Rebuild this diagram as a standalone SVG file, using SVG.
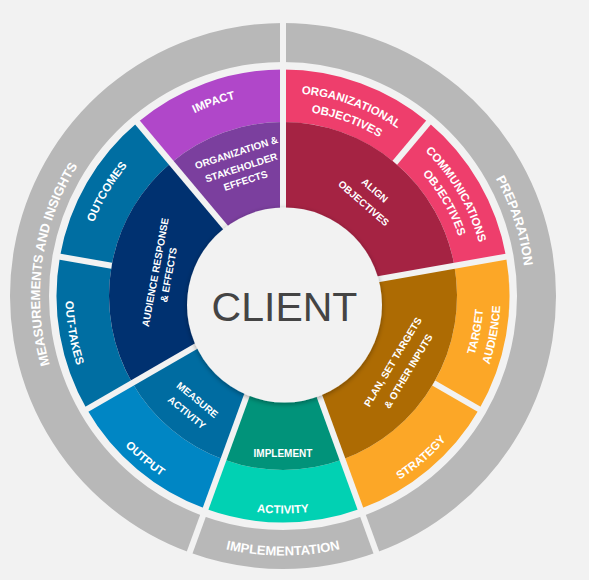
<svg xmlns="http://www.w3.org/2000/svg" width="589" height="580" viewBox="0 0 589 580">
<style>
.arc{fill:none}
.sep{stroke:#f2f2f2;stroke-width:6;fill:none}
.lbl{font-family:"Liberation Sans",Arial,sans-serif;font-weight:bold;fill:#ffffff}
.o{font-size:11.5px}
.i{font-size:10px}
.g{font-size:13px}
</style>
<defs>
<filter id="sh" x="-20%" y="-20%" width="140%" height="140%"><feDropShadow dx="0" dy="1.5" stdDeviation="2.5" flood-color="#000" flood-opacity="0.35"/></filter>
<path id="cw203" d="M-130.49,-155.51 A203,203 0 0 1 130.49,-155.51"/>
<path id="cw185" d="M-119.24,-142.10 A185.5,185.5 0 0 1 119.24,-142.10"/>
<path id="ccw200" d="M-128.88,153.59 A200.5,200.5 0 0 0 128.88,153.59"/>
<path id="ccw217" d="M-139.81,166.61 A217.5,217.5 0 0 0 139.81,166.61"/>
<path id="cw243" d="M-210.45,-121.5 A243,243 0 0 1 210.45,-121.5"/>
<path id="ccw259" d="M-166.80,198.79 A259.5,259.5 0 0 0 166.80,198.79"/>
</defs>
<rect width="589" height="580" fill="#f2f2f2"/>

<g id="preparation">
<path class="arc" d="M283,42.5 A253.5,253.5 0 0 1 369.70,534.21" stroke="#b8b8b8" stroke-width="39"/>
<g transform="translate(283 296) rotate(72)"><text class="lbl g"><textPath href="#cw243" startOffset="50%" text-anchor="middle">PREPARATION</textPath></text></g>
</g>
<g id="implementation">
<path class="arc" d="M369.70,534.21 A253.5,253.5 0 0 1 196.30,534.21" stroke="#b8b8b8" stroke-width="39"/>
<g transform="translate(283 296)"><text class="lbl g"><textPath href="#ccw259" startOffset="50%" text-anchor="middle">IMPLEMENTATION</textPath></text></g>
</g>
<g id="measurements">
<path class="arc" d="M196.30,534.21 A253.5,253.5 0 0 1 283,42.5" stroke="#b8b8b8" stroke-width="39"/>
<g transform="translate(283 296) rotate(278)"><text class="lbl g"><textPath href="#cw243" startOffset="50%" text-anchor="middle">MEASUREMENTS AND INSIGHTS</textPath></text></g>
</g>

<g id="organizational-objectives">
<path class="arc" d="M283,95.75 A200.25,200.25 0 0 1 411.72,142.60" stroke="#ee3e6c" stroke-width="52.5"/>
<g transform="translate(283 296) rotate(19.8)"><text class="lbl o"><textPath href="#cw203" startOffset="50%" text-anchor="middle">ORGANIZATIONAL</textPath></text></g>
<g transform="translate(283 296) rotate(20)"><text class="lbl o"><textPath href="#cw185" startOffset="50%" text-anchor="middle">OBJECTIVES</textPath></text></g>
</g>
<g id="communications-objectives">
<path class="arc" d="M411.72,142.60 A200.25,200.25 0 0 1 480.21,261.23" stroke="#ee3e6c" stroke-width="52.5"/>
<g transform="translate(283 296) rotate(59.6)"><text class="lbl o"><textPath href="#cw203" startOffset="50%" text-anchor="middle">COMMUNICATIONS</textPath></text></g>
<g transform="translate(283 296) rotate(60)"><text class="lbl o"><textPath href="#cw185" startOffset="50%" text-anchor="middle">OBJECTIVES</textPath></text></g>
</g>
<g id="target-audience">
<path class="arc" d="M480.21,261.23 A200.25,200.25 0 0 1 456.42,396.13" stroke="#fca727" stroke-width="52.5"/>
<g transform="translate(283 296) rotate(-79.5)"><text class="lbl o"><textPath href="#ccw200" startOffset="50%" text-anchor="middle">TARGET</textPath></text><text class="lbl o"><textPath href="#ccw217" startOffset="50%" text-anchor="middle">AUDIENCE</textPath></text></g>
</g>
<g id="strategy">
<path class="arc" d="M456.42,396.13 A200.25,200.25 0 0 1 351.49,484.17" stroke="#fca727" stroke-width="52.5"/>
<g transform="translate(283 296) rotate(-40.5)"><text class="lbl o"><textPath href="#ccw217" startOffset="50%" text-anchor="middle">STRATEGY</textPath></text></g>
</g>
<g id="activity">
<path class="arc" d="M351.49,484.17 A200.25,200.25 0 0 1 214.51,484.17" stroke="#01d1b3" stroke-width="52.5"/>
<g transform="translate(283 296)"><text class="lbl o"><textPath href="#ccw217" startOffset="50%" text-anchor="middle">ACTIVITY</textPath></text></g>
</g>
<g id="output">
<path class="arc" d="M214.51,484.17 A200.25,200.25 0 0 1 109.58,396.13" stroke="#0086c4" stroke-width="52.5"/>
<g transform="translate(283 296) rotate(40.3)"><text class="lbl o"><textPath href="#ccw217" startOffset="50%" text-anchor="middle">OUTPUT</textPath></text></g>
</g>
<g id="out-takes">
<path class="arc" d="M109.58,396.13 A200.25,200.25 0 0 1 85.79,261.23" stroke="#006ea2" stroke-width="52.5"/>
<g transform="translate(283 296) rotate(80)"><text class="lbl o"><textPath href="#ccw217" startOffset="50%" text-anchor="middle">OUT-TAKES</textPath></text></g>
</g>
<g id="outcomes">
<path class="arc" d="M85.79,261.23 A200.25,200.25 0 0 1 154.28,142.60" stroke="#006ea2" stroke-width="52.5"/>
<g transform="translate(283 296) rotate(300.6)"><text class="lbl o"><textPath href="#cw203" startOffset="50%" text-anchor="middle">OUTCOMES</textPath></text></g>
</g>
<g id="impact">
<path class="arc" d="M154.28,142.60 A200.25,200.25 0 0 1 283,95.75" stroke="#b047c9" stroke-width="52.5"/>
<g transform="translate(283 296) rotate(340.3)"><text class="lbl o"><textPath href="#cw203" startOffset="50%" text-anchor="middle">IMPACT</textPath></text></g>
</g>

<g id="align-objectives">
<path class="arc" d="M283,174 A122,122 0 0 1 403.15,274.81" stroke="#a52343" stroke-width="104"/>
<g transform="translate(283 296) rotate(41)"><text class="lbl i" x="0" y="-136.4" text-anchor="middle">ALIGN</text><text class="lbl i" x="0" y="-119.4" text-anchor="middle">OBJECTIVES</text></g>
</g>
<g id="plan">
<path class="arc" d="M403.15,274.81 A122,122 0 0 1 324.73,410.64" stroke="#ad6b03" stroke-width="104"/>
<g transform="translate(283 296) rotate(-59)"><text class="lbl i" x="0" y="131.6" text-anchor="middle">PLAN, SET TARGETS</text><text class="lbl i" x="0" y="149.6" text-anchor="middle">&amp; OTHER INPUTS</text></g>
</g>
<g id="implement">
<path class="arc" d="M324.73,410.64 A122,122 0 0 1 241.27,410.64" stroke="#01937a" stroke-width="104"/>
<g transform="translate(283 296)"><text class="lbl i" x="0" y="160.9" text-anchor="middle">IMPLEMENT</text></g>
</g>
<g id="measure-activity">
<path class="arc" d="M241.27,410.64 A122,122 0 0 1 177.34,357" stroke="#006ca1" stroke-width="104"/>
<g transform="translate(283 296) rotate(39.5)"><text class="lbl i" x="0" y="138.2" text-anchor="middle">MEASURE</text><text class="lbl i" x="0" y="154.6" text-anchor="middle">ACTIVITY</text></g>
</g>
<g id="audience-response">
<path class="arc" d="M177.34,357 A122,122 0 0 1 204.58,202.54" stroke="#003170" stroke-width="104"/>
<g transform="translate(283 296) rotate(280.5)"><text class="lbl i" x="0" y="-126.4" text-anchor="middle">AUDIENCE RESPONSE</text><text class="lbl i" x="0" y="-112.9" text-anchor="middle">&amp; EFFECTS</text></g>
</g>
<g id="stakeholder-effects">
<path class="arc" d="M204.58,202.54 A122,122 0 0 1 283,174" stroke="#7b3f9e" stroke-width="104"/>
<g transform="translate(283 296) rotate(342)"><text class="lbl i" x="0" y="-147.4" text-anchor="middle">ORGANIZATION &amp;</text><text class="lbl i" x="0" y="-131.6" text-anchor="middle">STAKEHOLDER</text><text class="lbl i" x="0" y="-117.9" text-anchor="middle">EFFECTS</text></g>
</g>

<g id="separators" class="sep">
<path d="M283,296 L283,16"/>
<path d="M283,296 L511.48,255.71"/>
<path d="M283,296 L378.77,559.11"/>
<path d="M283,296 L187.23,559.11"/>
<path d="M283,296 L82.08,412"/>
<path d="M283,296 L133.87,118.28"/>
<path d="M394.85,162.72 L432.13,118.28"/>
<path d="M433.69,383 L483.92,412"/>
<path d="M111.64,265.78 L54.52,255.71"/>
</g>

<g id="client">
<circle cx="284.5" cy="305" r="97.5" fill="#f2f2f2" filter="url(#sh)"/>
<text x="284.5" y="320.7" text-anchor="middle" font-family="'Liberation Sans',Arial,sans-serif" font-size="41" fill="#444444">CLIENT</text>
</g>
</svg>
